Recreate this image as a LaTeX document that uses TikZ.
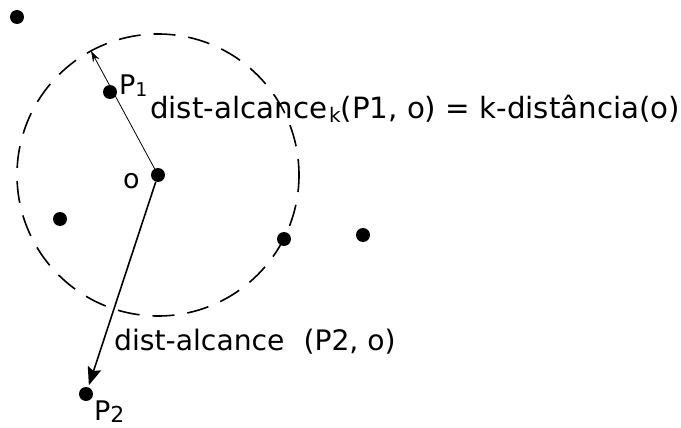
\documentclass[tikz,border=0pt]{standalone}
\usepackage{fontspec}
\setmainfont{DejaVu Sans}
\usetikzlibrary{arrows.meta}
\begin{document}
\begin{tikzpicture}[x=1pt,y=-1pt,
  dot/.style={circle,fill=black,inner sep=0pt,minimum size=14pt},
  lbl/.style={inner sep=0pt,anchor=base west},
  plbl/.style={inner sep=0pt,anchor=base west,font=\fontsize{27}{30}\selectfont}]
\useasboundingbox (0,0) rectangle (681,428);
\node[dot] (o) at (158,175) {};
\node[dot] (a) at (17,17) {};
\node[dot] (p1) at (110,92) {};
\node[dot] (b) at (60,219) {};
\node[dot] (c) at (284,239) {};
\node[dot] (d) at (363,235) {};
\node[dot] (p2) at (86,394) {};
\draw[line width=1.6pt, dash pattern=on 22pt off 13pt, dash phase=6pt] (o.center) circle[radius=141pt];
\coordinate (r) at (91,51);
\draw[line width=0.8pt, -{Stealth[length=11pt,width=7pt]}] (o.center) -- (r);
\draw[line width=1.6pt, -{Stealth[length=18pt,width=14pt,inset=3pt]}, shorten >=2pt] (o) -- (p2);
\node[plbl] (lp1) at (119,95) {P\raisebox{-2pt}{\fontsize{19}{19}\selectfont 1}};
\node[plbl] (lo) at (123,188) {o};
\node[plbl] (lp2) at (94,420) {P\raisebox{-2pt}{\fontsize{22}{22}\selectfont 2}};
\node[lbl, font=\fontsize{29.3}{31}\selectfont] (t1) at (150,118) {dist-alcance\hspace{2pt}\raisebox{-5pt}{\fontsize{20}{20}\selectfont k}(P1, o) = k-distância(o)};
\node[lbl, font=\fontsize{28.2}{30}\selectfont] (t2) at (114,350) {dist-alcance\hspace{19pt}(P2, o)};
\end{tikzpicture}
\end{document}
